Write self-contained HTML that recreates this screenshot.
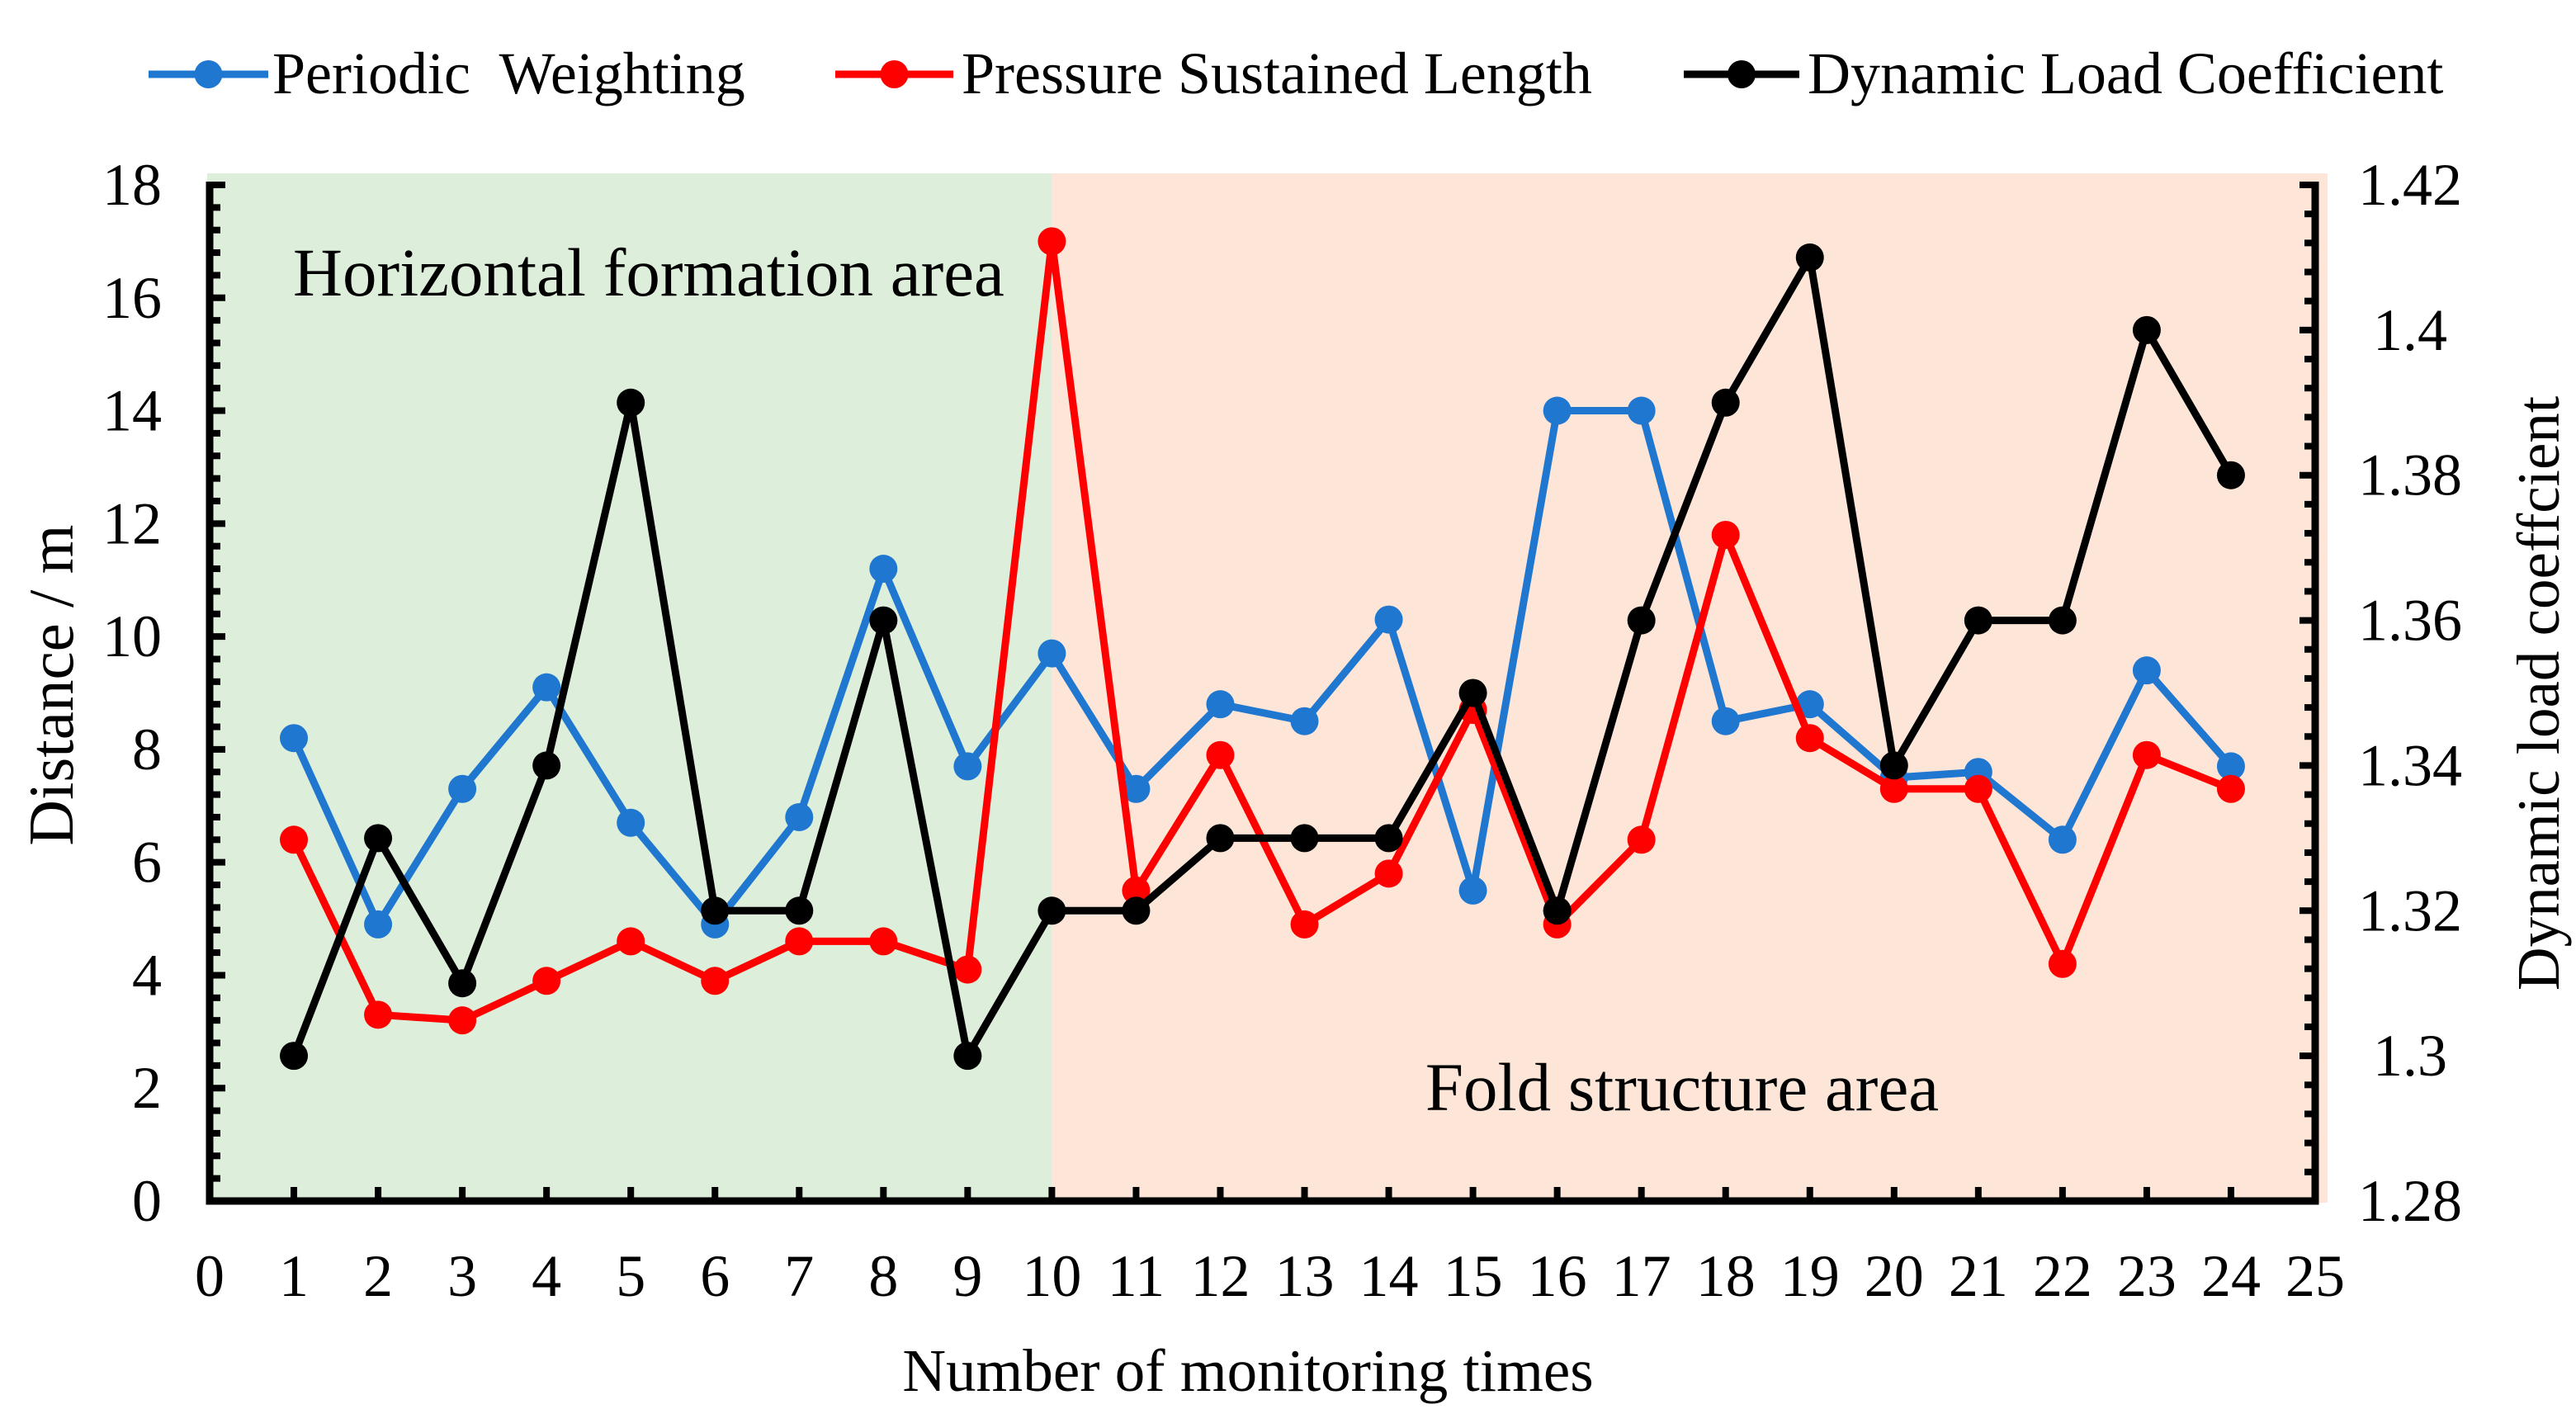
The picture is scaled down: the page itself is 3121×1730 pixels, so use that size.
<!DOCTYPE html>
<html><head><meta charset="utf-8"><style>
html,body{margin:0;padding:0;background:#fff}
svg{display:block}
text{font-family:"Liberation Serif",serif;fill:#000;white-space:pre}
</style></head><body>
<svg id="chart" width="3121" height="1730" viewBox="0 0 3121 1730" xmlns="http://www.w3.org/2000/svg">
<g id="bg"></g><g id="axes"></g><g id="series"></g><g id="legend"></g>
</svg>
<script>
const categories=[1,2,3,4,5,6,7,8,9,10,11,12,13,14,15,16,17,18,19,20,21,22,23,24];
const periodicWeighting=[8.2,4.9,7.3,9.1,6.7,4.9,6.8,11.2,7.7,9.7,7.3,8.8,8.5,10.3,5.5,14,14,8.5,8.8,7.5,7.6,6.4,9.4,7.7];
const pressureLength=[6.4,3.3,3.2,3.9,4.6,3.9,4.6,4.6,4.1,17,5.5,7.9,4.9,5.8,8.7,4.9,6.4,11.8,8.2,7.3,7.3,4.2,7.9,7.3];
const dynamicLoad=[1.30,1.33,1.31,1.34,1.39,1.32,1.32,1.36,1.30,1.32,1.32,1.33,1.33,1.33,1.35,1.32,1.36,1.39,1.41,1.34,1.36,1.36,1.40,1.38];
const xTicks=[0,1,2,3,4,5,6,7,8,9,10,11,12,13,14,15,16,17,18,19,20,21,22,23,24,25];
const yLeftTicks=[0,2,4,6,8,10,12,14,16,18];
const yRightTicks=["1.28","1.3","1.32","1.34","1.36","1.38","1.4","1.42"];
const regionSplit=10;

const NS="http://www.w3.org/2000/svg";
const X0=254,X1=2805,YB=1455,YT=224;
const xs=v=>X0+(v-0)/25*(X1-X0);
const yl=v=>YB-(v/18)*(YB-YT);
const yr=v=>YB-((v-1.28)/0.14)*(YB-YT);
function mk(tag,attrs,parent,txt){const e=document.createElementNS(NS,tag);for(const k in attrs)e.setAttribute(k,attrs[k]);if(txt!==undefined)e.textContent=txt;parent.appendChild(e);return e;}
const bg=document.getElementById('bg'),ax=document.getElementById('axes'),se=document.getElementById('series'),lg=document.getElementById('legend');

let r=mk('rect',{x:251,y:210,width:xs(regionSplit)-251,height:1457-210,fill:'#DDEFDA'},bg);


r=mk('rect',{x:xs(regionSplit),y:210,width:2820-xs(regionSplit),height:1457-210,fill:'#FDE5D8'},bg);


let t=mk('text',{x:355,y:358,'font-size':83},bg,'Horizontal formation area');


t=mk('text',{x:2038,y:1345,'font-size':83,'text-anchor':'middle'},bg,'Fold structure area');



let l=mk('path',{d:`M${X0} ${YT-4} V${YB} H${X1} V${YT-4}`,fill:'none',stroke:'#000','stroke-width':9},ax);


for(let v=0;v<=18.001;v+=0.4){const y=yl(v);const major=Math.abs(v/2-Math.round(v/2))<1e-6;mk('line',{x1:X0,x2:X0+(major?19:13),y1:y,y2:y,stroke:'#000','stroke-width':8},ax);}
yLeftTicks.forEach(v=>{const e=mk('text',{x:196,y:yl(v)+24,'font-size':72,'text-anchor':'end'},ax,String(v));});
for(let i=0;i<=35;i++){const v=1.28+i*0.004;const y=yr(v);const major=i%5===0;mk('line',{x1:X1,x2:X1-(major?19:13),y1:y,y2:y,stroke:'#000','stroke-width':8},ax);}
yRightTicks.forEach(s=>{const e=mk('text',{x:2920,y:yr(parseFloat(s))+24,'font-size':72,'text-anchor':'middle'},ax,s);});
xTicks.forEach(v=>{const x=xs(v);if(v>0&&v<25)mk('line',{x1:x,x2:x,y1:YB,y2:YB-17,stroke:'#000','stroke-width':8},ax);const e=mk('text',{x:x,y:1570,'font-size':72,'text-anchor':'middle'},ax,String(v));});
t=mk('text',{x:1512,y:1685,'font-size':73,'text-anchor':'middle'},ax,'Number of monitoring times');


t=mk('text',{x:0,y:0,'font-size':77,'text-anchor':'middle',transform:'translate(88,830) rotate(-90)'},ax,'Distance / m');


t=mk('text',{x:0,y:0,'font-size':73,'text-anchor':'middle',transform:'translate(3100,840) rotate(-90)'},ax,'Dynamic load coeffcient');



function drawSeries(vals,yf,color,name){
  const g=mk('g',{},se);
  
  
  const pts=vals.map((v,i)=>[xs(categories[i]),yf(v)]);
  const p=mk('polyline',{points:pts.map(p=>p.join(',')).join(' '),fill:'none',stroke:color,'stroke-width':9,'stroke-linejoin':'round'},g);
  
  
  pts.forEach(pt=>{const c=mk('circle',{cx:pt[0],cy:pt[1],r:17,fill:color},g);
    
    });
}
drawSeries(periodicWeighting,yl,'#1F77D0','periodic-weighting');
drawSeries(pressureLength,yl,'#FF0000','pressure-sustained-length');
drawSeries(dynamicLoad,yr,'#000000','dynamic-load-coefficient');

function legendEntry(x1,x2,tx,color,label,name){
  const g=mk('g',{},lg);
  
  
  mk('line',{x1:x1,x2:x2,y1:90,y2:90,stroke:color,'stroke-width':9},g);
  mk('circle',{cx:(x1+x2)/2,cy:90,r:17,fill:color},g);
  mk('text',{x:tx,y:113,'font-size':72},g,label);
}
legendEntry(180,325,330,'#1F77D0','Periodic  Weighting','periodic-weighting');
legendEntry(1012,1155,1165,'#FF0000','Pressure Sustained Length','pressure-sustained-length');
legendEntry(2040,2180,2190,'#000000','Dynamic Load Coefficient','dynamic-load-coefficient');
</script>
</body></html>
